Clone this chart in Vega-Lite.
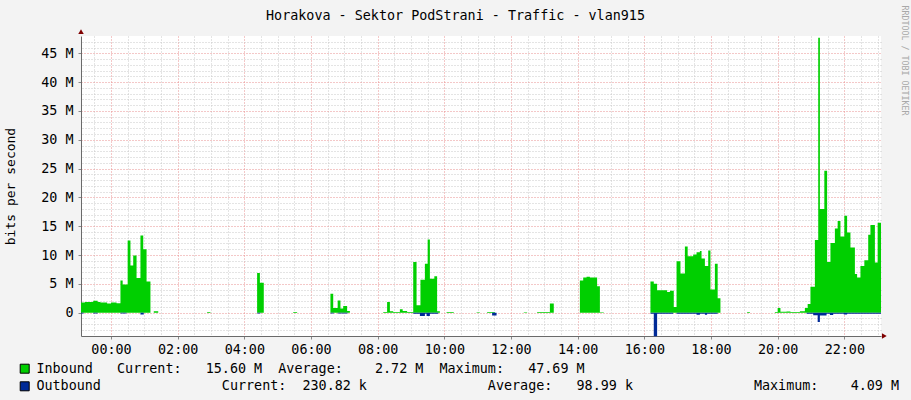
{
  "$schema": "https://vega.github.io/schema/vega-lite/v6.json",
  "width": 800,
  "height": 300,
  "autosize": {"type": "none"},
  "padding": {"left": 81, "top": 36, "right": 30, "bottom": 64},
  "background": "#f3f3f3",
  "config": {"view": {"fill": "#ffffff", "stroke": null}, "font": "DejaVu Sans Mono"},
  "title": {
    "text": "Horakova - Sektor PodStrani - Traffic - vlan915",
    "font": "DejaVu Sans Mono", "fontSize": 13.4, "fontWeight": "normal", "color": "#000000",
    "anchor": "middle", "frame": "group", "dx": -25.5, "offset": -28.6, "baseline": "alphabetic"
  },
  "data": {"values": [
    {"minute": -54, "s": "Inbound", "v": 1.75},
    {"minute": -47, "s": "Inbound", "v": 1.85},
    {"minute": -32, "s": "Inbound", "v": 2.05},
    {"minute": -24, "s": "Inbound", "v": 1.85},
    {"minute": -19, "s": "Inbound", "v": 1.75},
    {"minute": -7, "s": "Inbound", "v": 1.6},
    {"minute": 0, "s": "Inbound", "v": 1.75},
    {"minute": 10, "s": "Inbound", "v": 1.65},
    {"minute": 17, "s": "Inbound", "v": 5.6},
    {"minute": 21, "s": "Inbound", "v": 4.9},
    {"minute": 30, "s": "Inbound", "v": 12.5},
    {"minute": 35, "s": "Inbound", "v": 8.2},
    {"minute": 40, "s": "Inbound", "v": 9.9},
    {"minute": 46, "s": "Inbound", "v": 6.0},
    {"minute": 53, "s": "Inbound", "v": 13.4},
    {"minute": 58, "s": "Inbound", "v": 11.0},
    {"minute": 64, "s": "Inbound", "v": 5.4},
    {"minute": 71, "s": "Inbound", "v": 0},
    {"minute": 77, "s": "Inbound", "v": 0.25},
    {"minute": 85, "s": "Inbound", "v": 0},
    {"minute": 173, "s": "Inbound", "v": 0.12},
    {"minute": 179, "s": "Inbound", "v": 0},
    {"minute": 263, "s": "Inbound", "v": 6.9},
    {"minute": 268, "s": "Inbound", "v": 5.2},
    {"minute": 275, "s": "Inbound", "v": 0},
    {"minute": 328, "s": "Inbound", "v": 0.1},
    {"minute": 335, "s": "Inbound", "v": 0},
    {"minute": 395, "s": "Inbound", "v": 3.3},
    {"minute": 400, "s": "Inbound", "v": 0.8},
    {"minute": 408, "s": "Inbound", "v": 2.1},
    {"minute": 413, "s": "Inbound", "v": 0.7},
    {"minute": 418, "s": "Inbound", "v": 1.15},
    {"minute": 425, "s": "Inbound", "v": 0.3},
    {"minute": 430, "s": "Inbound", "v": 0},
    {"minute": 490, "s": "Inbound", "v": 0.1},
    {"minute": 497, "s": "Inbound", "v": 1.85},
    {"minute": 502, "s": "Inbound", "v": 0.25},
    {"minute": 508, "s": "Inbound", "v": 0.1},
    {"minute": 520, "s": "Inbound", "v": 0.6},
    {"minute": 525, "s": "Inbound", "v": 0.3},
    {"minute": 533, "s": "Inbound", "v": 0.1},
    {"minute": 544, "s": "Inbound", "v": 8.8},
    {"minute": 550, "s": "Inbound", "v": 1.3},
    {"minute": 557, "s": "Inbound", "v": 5.7},
    {"minute": 565, "s": "Inbound", "v": 8.5},
    {"minute": 570, "s": "Inbound", "v": 12.7},
    {"minute": 574, "s": "Inbound", "v": 5.9},
    {"minute": 582, "s": "Inbound", "v": 6.3},
    {"minute": 587, "s": "Inbound", "v": 0.25},
    {"minute": 592, "s": "Inbound", "v": 0},
    {"minute": 604, "s": "Inbound", "v": 0.1},
    {"minute": 617, "s": "Inbound", "v": 0},
    {"minute": 658, "s": "Inbound", "v": 0.08},
    {"minute": 664, "s": "Inbound", "v": 0},
    {"minute": 677, "s": "Inbound", "v": 0.1},
    {"minute": 691, "s": "Inbound", "v": 0},
    {"minute": 743, "s": "Inbound", "v": 0.08},
    {"minute": 749, "s": "Inbound", "v": 0},
    {"minute": 767, "s": "Inbound", "v": 0.1},
    {"minute": 790, "s": "Inbound", "v": 1.6},
    {"minute": 797, "s": "Inbound", "v": 0},
    {"minute": 844, "s": "Inbound", "v": 5.6},
    {"minute": 850, "s": "Inbound", "v": 6.1},
    {"minute": 856, "s": "Inbound", "v": 6.25},
    {"minute": 862, "s": "Inbound", "v": 6.1},
    {"minute": 875, "s": "Inbound", "v": 4.6},
    {"minute": 880, "s": "Inbound", "v": 0.08},
    {"minute": 887, "s": "Inbound", "v": 0},
    {"minute": 971, "s": "Inbound", "v": 5.4},
    {"minute": 977, "s": "Inbound", "v": 5.0},
    {"minute": 983, "s": "Inbound", "v": 3.9},
    {"minute": 1001, "s": "Inbound", "v": 3.6},
    {"minute": 1006, "s": "Inbound", "v": 3.8},
    {"minute": 1013, "s": "Inbound", "v": 1.0},
    {"minute": 1018, "s": "Inbound", "v": 8.9},
    {"minute": 1025, "s": "Inbound", "v": 6.8},
    {"minute": 1033, "s": "Inbound", "v": 11.5},
    {"minute": 1038, "s": "Inbound", "v": 9.8},
    {"minute": 1048, "s": "Inbound", "v": 10.1},
    {"minute": 1054, "s": "Inbound", "v": 10.5},
    {"minute": 1060, "s": "Inbound", "v": 10.7},
    {"minute": 1063, "s": "Inbound", "v": 9.4},
    {"minute": 1069, "s": "Inbound", "v": 8.1},
    {"minute": 1075, "s": "Inbound", "v": 10.8},
    {"minute": 1079, "s": "Inbound", "v": 4.0},
    {"minute": 1087, "s": "Inbound", "v": 8.5},
    {"minute": 1092, "s": "Inbound", "v": 2.5},
    {"minute": 1097, "s": "Inbound", "v": 0},
    {"minute": 1145, "s": "Inbound", "v": 0.1},
    {"minute": 1150, "s": "Inbound", "v": 0},
    {"minute": 1195, "s": "Inbound", "v": 0.1},
    {"minute": 1200, "s": "Inbound", "v": 0.8},
    {"minute": 1205, "s": "Inbound", "v": 0.15},
    {"minute": 1216, "s": "Inbound", "v": 0.2},
    {"minute": 1223, "s": "Inbound", "v": 0.1},
    {"minute": 1240, "s": "Inbound", "v": 0.25},
    {"minute": 1249, "s": "Inbound", "v": 0.8},
    {"minute": 1254, "s": "Inbound", "v": 1.5},
    {"minute": 1259, "s": "Inbound", "v": 4.5},
    {"minute": 1267, "s": "Inbound", "v": 12.6},
    {"minute": 1273, "s": "Inbound", "v": 47.69},
    {"minute": 1276, "s": "Inbound", "v": 18.0},
    {"minute": 1284, "s": "Inbound", "v": 24.6},
    {"minute": 1289, "s": "Inbound", "v": 8.8},
    {"minute": 1295, "s": "Inbound", "v": 12.1},
    {"minute": 1303, "s": "Inbound", "v": 14.6},
    {"minute": 1308, "s": "Inbound", "v": 15.9},
    {"minute": 1313, "s": "Inbound", "v": 13.2},
    {"minute": 1320, "s": "Inbound", "v": 16.8},
    {"minute": 1325, "s": "Inbound", "v": 13.9},
    {"minute": 1331, "s": "Inbound", "v": 11.3},
    {"minute": 1339, "s": "Inbound", "v": 6.7},
    {"minute": 1343, "s": "Inbound", "v": 6.1},
    {"minute": 1349, "s": "Inbound", "v": 8.1},
    {"minute": 1356, "s": "Inbound", "v": 9.1},
    {"minute": 1363, "s": "Inbound", "v": 13.5},
    {"minute": 1367, "s": "Inbound", "v": 15.2},
    {"minute": 1375, "s": "Inbound", "v": 8.7},
    {"minute": 1380, "s": "Inbound", "v": 15.6},
    {"minute": 1386, "s": "Inbound", "v": 15.6},
    {"minute": -54, "s": "Outbound", "v": -0.15},
    {"minute": -49, "s": "Outbound", "v": 0},
    {"minute": -32, "s": "Outbound", "v": -0.15},
    {"minute": -24, "s": "Outbound", "v": 0},
    {"minute": 17, "s": "Outbound", "v": -0.15},
    {"minute": 28, "s": "Outbound", "v": 0},
    {"minute": 53, "s": "Outbound", "v": -0.3},
    {"minute": 59, "s": "Outbound", "v": 0},
    {"minute": 263, "s": "Outbound", "v": -0.15},
    {"minute": 269, "s": "Outbound", "v": 0},
    {"minute": 395, "s": "Outbound", "v": -0.15},
    {"minute": 401, "s": "Outbound", "v": 0},
    {"minute": 408, "s": "Outbound", "v": -0.15},
    {"minute": 426, "s": "Outbound", "v": 0},
    {"minute": 544, "s": "Outbound", "v": -0.2},
    {"minute": 556, "s": "Outbound", "v": -0.6},
    {"minute": 565, "s": "Outbound", "v": -0.2},
    {"minute": 568, "s": "Outbound", "v": -0.6},
    {"minute": 574, "s": "Outbound", "v": -0.2},
    {"minute": 589, "s": "Outbound", "v": 0},
    {"minute": 686, "s": "Outbound", "v": -0.5},
    {"minute": 694, "s": "Outbound", "v": 0},
    {"minute": 971, "s": "Outbound", "v": -0.2},
    {"minute": 977, "s": "Outbound", "v": -4.09},
    {"minute": 983, "s": "Outbound", "v": -0.2},
    {"minute": 1012, "s": "Outbound", "v": 0},
    {"minute": 1018, "s": "Outbound", "v": -0.2},
    {"minute": 1054, "s": "Outbound", "v": -0.35},
    {"minute": 1060, "s": "Outbound", "v": -0.2},
    {"minute": 1069, "s": "Outbound", "v": -0.35},
    {"minute": 1073, "s": "Outbound", "v": -0.2},
    {"minute": 1092, "s": "Outbound", "v": 0},
    {"minute": 1252, "s": "Outbound", "v": -0.2},
    {"minute": 1264, "s": "Outbound", "v": -0.45},
    {"minute": 1272, "s": "Outbound", "v": -1.6},
    {"minute": 1276, "s": "Outbound", "v": -0.5},
    {"minute": 1288, "s": "Outbound", "v": -0.2},
    {"minute": 1294, "s": "Outbound", "v": -0.4},
    {"minute": 1300, "s": "Outbound", "v": -0.2},
    {"minute": 1319, "s": "Outbound", "v": -0.3},
    {"minute": 1325, "s": "Outbound", "v": -0.2},
    {"minute": 1386, "s": "Outbound", "v": -0.23}
  ]},
  "layer": [
    {
      "mark": {"type": "point", "opacity": 0},
      "encoding": {
        "x": {
          "field": "minute", "type": "quantitative",
          "scale": {"domain": [-54, 1386], "nice": false, "zero": false},
          "axis": {"orient": "bottom", "values": [-30, 30, 60, 90, 150, 180, 210, 270, 300, 330, 390, 420, 450, 510, 540, 570, 630, 660, 690, 750, 780, 810, 870, 900, 930, 990, 1020, 1050, 1110, 1140, 1170, 1230, 1260, 1290, 1350, 1380],
            "grid": true, "gridColor": "#c8c8c8", "gridDash": [1, 2], "labels": false, "ticks": false, "domain": false, "title": null}
        },
        "y": {
          "field": "v", "type": "quantitative",
          "scale": {"domain": [-4.05, 48], "nice": false, "zero": false},
          "axis": {"orient": "right", "values": [-4, -3, -2, -1, 1, 2, 3, 4, 6, 7, 8, 9, 11, 12, 13, 14, 16, 17, 18, 19, 21, 22, 23, 24, 26, 27, 28, 29, 31, 32, 33, 34, 36, 37, 38, 39, 41, 42, 43, 44, 46, 47],
            "grid": true, "gridColor": "#c8c8c8", "gridDash": [1, 2], "labels": false, "ticks": false, "domain": false,
            "title": "RRDTOOL / TOBI OETIKER", "titleFont": "DejaVu Sans Mono", "titleFontSize": 8.3, "titleFontWeight": "normal", "titleColor": "#a8a8a8",
            "titleAngle": 90, "titleX": 22, "titleY": -31, "titleAlign": "left", "titleBaseline": "middle"}
        }
      }
    },
    {
      "mark": {"type": "point", "opacity": 0},
      "encoding": {
        "x": {
          "field": "minute", "type": "quantitative",
          "axis": {"orient": "bottom", "values": [0, 120, 240, 360, 480, 600, 720, 840, 960, 1080, 1200, 1320],
            "labelExpr": "(datum.value < 600 ? '0' : '') + (datum.value / 60) + ':00'",
            "grid": true, "gridColor": "#e89090", "gridDash": [1, 2],
            "labelFont": "DejaVu Sans Mono", "labelFontSize": 13.4, "labelColor": "#000000", "labelPadding": 3.5,
            "ticks": true, "tickSize": 3, "tickColor": "#888888", "domain": true, "domainColor": "#6a6a6a", "title": null}
        },
        "y": {
          "field": "v", "type": "quantitative",
          "axis": {"orient": "left", "values": [0, 5, 10, 15, 20, 25, 30, 35, 40, 45], "grid": true, "gridColor": "#e89090", "gridDash": [1, 2],
            "labelExpr": "datum.value == 0 ? '0' : datum.value + ' M'",
            "labelFont": "DejaVu Sans Mono", "labelFontSize": 13.4, "labelColor": "#000000", "labelPadding": 5,
            "ticks": true, "tickSize": 3, "tickColor": "#888888", "domain": true, "domainColor": "#6a6a6a",
            "title": "bits per second", "titleFont": "DejaVu Sans Mono", "titleFontSize": 13, "titleFontWeight": "normal", "titleColor": "#000000",
            "titleAngle": -90, "titleX": -67, "titleY": 150, "titleAlign": "center", "titleBaseline": "alphabetic"}
        }
      }
    },
    {
      "mark": {"type": "area", "interpolate": "step-after"},
      "encoding": {
        "x": {"field": "minute", "type": "quantitative", "axis": null},
        "y": {"field": "v", "type": "quantitative", "axis": null, "stack": null},
        "color": {
          "field": "s", "type": "nominal",
          "scale": {"domain": ["Inbound", "Outbound"], "range": ["#00cf00", "#002a97"]},
          "legend": {
            "orient": "none", "legendX": -63, "legendY": 326, "title": null, "direction": "vertical", "padding": 0,
            "symbolType": "square", "symbolSize": 81, "symbolStrokeColor": "#000000", "symbolStrokeWidth": 1, "symbolOpacity": 1,
            "labelFont": "DejaVu Sans Mono", "labelFontSize": 13.4, "labelColor": "#000000", "labelOffset": 5, "labelLimit": 1200, "rowPadding": 2.6,
            "labelExpr": "datum.label == 'Inbound' ? 'Inbound\u00a0\u00a0\u00a0Current:\u00a0\u00a0\u00a015.60\u00a0M\u00a0\u00a0Average:\u00a0\u00a0\u00a0\u00a02.72\u00a0M\u00a0\u00a0Maximum:\u00a0\u00a0\u00a047.69\u00a0M' : 'Outbound\u00a0\u00a0\u00a0\u00a0\u00a0\u00a0\u00a0\u00a0\u00a0\u00a0\u00a0\u00a0\u00a0\u00a0\u00a0Current:\u00a0\u00a0230.82\u00a0k\u00a0\u00a0\u00a0\u00a0\u00a0\u00a0\u00a0\u00a0\u00a0\u00a0\u00a0\u00a0\u00a0\u00a0\u00a0Average:\u00a0\u00a0\u00a098.99\u00a0k\u00a0\u00a0\u00a0\u00a0\u00a0\u00a0\u00a0\u00a0\u00a0\u00a0\u00a0\u00a0\u00a0\u00a0\u00a0Maximum:\u00a0\u00a0\u00a0\u00a04.09\u00a0M'"
          }
        }
      }
    },
    {
      "data": {"values": [{}]},
      "mark": {"type": "point", "shape": "triangle-up", "size": 30, "filled": true, "color": "#7f0000", "opacity": 1},
      "encoding": {
        "x": {"datum": -54, "type": "quantitative", "axis": null},
        "y": {"datum": 48.78, "type": "quantitative", "axis": null}
      }
    },
    {
      "data": {"values": [{}]},
      "mark": {"type": "point", "shape": "triangle-right", "size": 30, "filled": true, "color": "#7f0000", "opacity": 1},
      "encoding": {
        "x": {"datum": 1392, "type": "quantitative", "axis": null},
        "y": {"datum": -4.05, "type": "quantitative", "axis": null}
      }
    }
  ],
  "resolve": {"axis": {"x": "independent", "y": "independent"}}
}
